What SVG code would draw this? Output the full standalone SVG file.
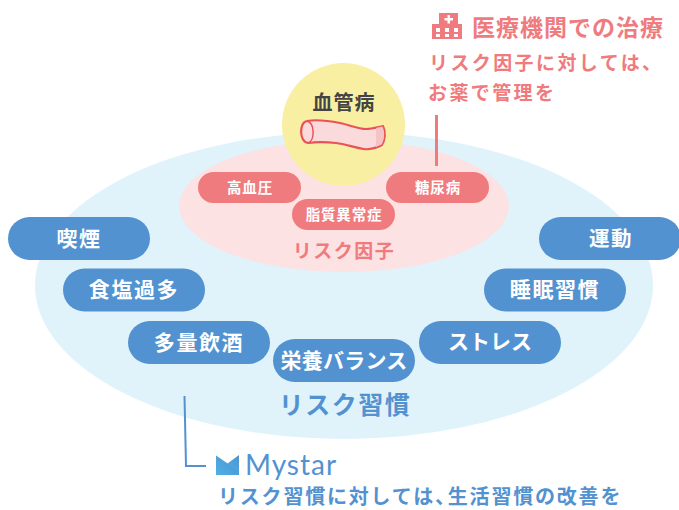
<svg xmlns="http://www.w3.org/2000/svg" width="679" height="510" viewBox="0 0 679 510">
<defs>
<linearGradient id="lg" x1="0" y1="1" x2="1" y2="0"><stop offset="0" stop-color="#4cc4f2"/><stop offset="1" stop-color="#4f8fce"/></linearGradient>
</defs>
<style>
text{font-family:"Noto Sans CJK JP","Noto Sans",sans-serif;font-weight:700;text-anchor:middle}
.blue{fill:#5392d0}
.pink{fill:#f07b7e}
.bt{fill:#fff;font-size:21px;letter-spacing:1.6px}
.pt{fill:#fff;font-size:14.500px;letter-spacing:.8px}
.hd{text-anchor:start;font-size:23px;letter-spacing:1px}
.sub{text-anchor:start;font-size:19px;letter-spacing:2.400px}
</style>
<rect width="679" height="510" fill="#fff"/>
<g id="risk-habits-area"><ellipse cx="344" cy="285.500" rx="309" ry="153.500" fill="#e0f3fb"/></g>
<g id="risk-factors-area"><ellipse cx="344" cy="206" rx="165" ry="66" fill="#fce2e3"/></g>
<g id="vascular-disease">
<circle cx="343.500" cy="124.500" r="61.500" fill="#f9efa2"/>
<text x="344" y="110" font-size="20" letter-spacing="1" fill="#444">血管病</text>
<path d="M307 121C318 119 330 121 340 123C350 125 358 129 366 129C372 129 378 127 383 126C386 132 385 140 382 145C376 148 370 150 364 149C355 148 346 144 336 143C326 142 316 142 308 143C299 142 299 122 307 121Z" fill="#fbdadc" stroke="#ea5257" stroke-width="2.200" stroke-linejoin="round"/>
<path d="M376 128L382.500 126.500C385 132 384.500 140 381.500 144.500L376 147Z" fill="#f5c3c6"/>
<path d="M307 121C315 123 315 141 308 143" fill="none" stroke="#ea5257" stroke-width="1.500"/>
</g>
<g id="connectors">
<path d="M436.500 115V166" fill="none" stroke="#f07b7e" stroke-width="3"/>
<path d="M184.500 396L186 466H206" fill="none" stroke="#5392d0" stroke-width="2"/>
</g>
<g id="hypertension"><rect class="pink" x="198" y="172" width="103" height="31" rx="15.500"/><text class="pt" x="250" y="193">高血圧</text></g>
<g id="diabetes"><rect class="pink" x="386" y="172" width="103" height="31" rx="15.500"/><text class="pt" x="438" y="193">糖尿病</text></g>
<g id="dyslipidemia"><rect class="pink" x="292" y="199" width="103" height="31" rx="15.500"/><text class="pt" x="344" y="220">脂質異常症</text></g>
<g id="risk-factors-label"><text x="344" y="258" font-size="19" letter-spacing="1.500" class="pink">リスク因子</text></g>
<g id="smoking"><rect class="blue" x="8" y="217" width="142" height="43" rx="21.500"/><text class="bt" x="79" y="246">喫煙</text></g>
<g id="salt"><rect class="blue" x="63" y="268.500" width="142" height="43" rx="21.500"/><text class="bt" x="134" y="297">食塩過多</text></g>
<g id="alcohol"><rect class="blue" x="128" y="321" width="142" height="43" rx="21.500"/><text class="bt" x="199" y="350">多量飲酒</text></g>
<g id="nutrition"><rect class="blue" x="273" y="339" width="142" height="43" rx="21.500"/><text class="bt" x="344" y="368" style="letter-spacing:.2px">栄養バランス</text></g>
<g id="stress"><rect class="blue" x="419" y="321" width="142" height="43" rx="21.500"/><text class="bt" x="490" y="349" style="letter-spacing:0">ストレス</text></g>
<g id="sleep"><rect class="blue" x="484" y="268.500" width="142" height="43" rx="21.500"/><text class="bt" x="555" y="297">睡眠習慣</text></g>
<g id="exercise"><rect class="blue" x="539" y="217" width="142" height="43" rx="21.500"/><text class="bt" x="611" y="246" style="font-size:20.500px">運動</text></g>
<g id="risk-habits-label"><text x="345" y="414" font-size="25" letter-spacing="1.500" class="blue">リスク習慣</text></g>
<g id="medical-treatment">
<path class="pink" fill-rule="evenodd" d="M432 24H439V13H458V24H462V39H432ZM436 28V32H440V28ZM445 28V32H449V28ZM454 28V32H458V28ZM436 34V37H440V34ZM445 34V37H449V34ZM454 34V37H458V34ZM447.500 15V18H444.500V20.500H447.500V23.500H450V20.500H453V18H450V15Z"/>
<text class="hd pink" x="472" y="35.500">医療機関での治療</text>
<text class="sub pink" x="429" y="70">リスク因子に対しては、</text>
<text class="sub pink" x="428" y="100">お薬で管理を</text>
</g>
<g id="mystar">
<path d="M216 455.500L227.500 463.500L239 455V475H216Z" fill="url(#lg)"/>
<path d="M216 455.500L227.500 463.500L239 472V475H216Z" fill="#4f8fce" opacity=".35"/>
<text x="245" y="475" font-size="28" style="font-family:'Lato','Noto Sans',sans-serif;text-anchor:start;font-weight:400" letter-spacing="1" class="blue">Mystar</text>
<text class="blue" x="218" y="504" font-size="20" letter-spacing="1.800" style="text-anchor:start">リスク習慣に対しては、<tspan dx="-9">生活習慣の改善を</tspan></text>
</g>
</svg>
